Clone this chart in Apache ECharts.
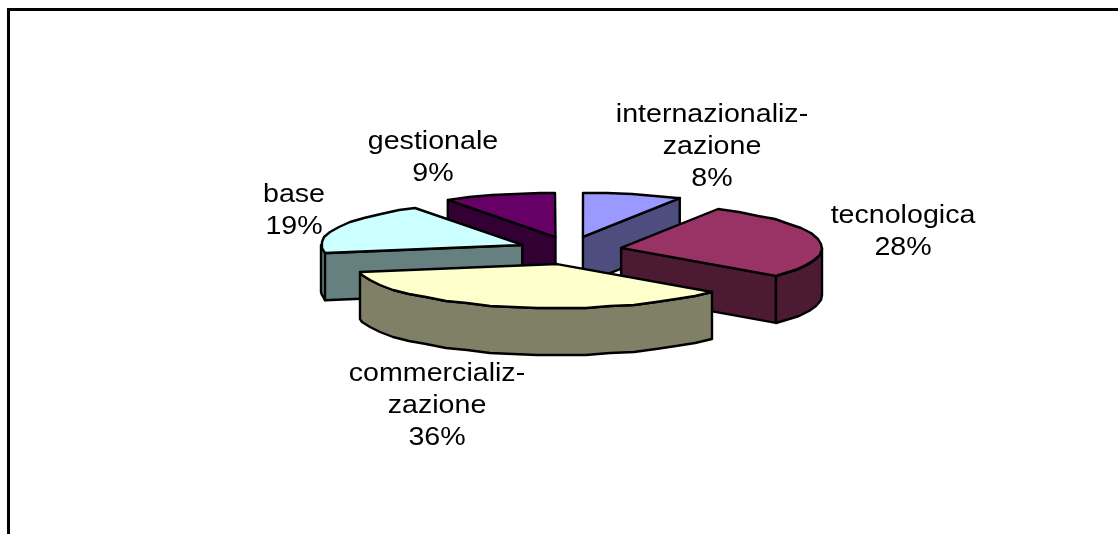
<!DOCTYPE html>
<html>
<head>
<meta charset="utf-8">
<title>pie</title>
<script src="https://cdn.jsdelivr.net/npm/echarts@6/dist/echarts.min.js"></script>
<style>
html, body { margin: 0; padding: 0; background: #fff; }
#chart { width: 1118px; height: 534px; }
</style>
</head>
<body>
<div id="chart"></div>
<script>
// data
var categories = ["internazionaliz-\nzazione", "tecnologica", "commercializ-\nzazione", "base", "gestionale"];
var shares = [8, 28, 36, 19, 9];

// colours
var topColors = ["#9999ff", "#993366", "#ffffcc", "#ccffff", "#660066"];
var sideColors = ["#4d4d80", "#4d1a33", "#808066", "#668080", "#330033"];

// layout of the tilted pie
var cx = 570, cy = 250.5;
var rx = 201, ry = 44;       // ellipse of the top face
var ex = 52, ey = 14;        // how far slices are pulled out
var depth = 47;
var arcStep = 7;             // degrees, the original arc is coarse
var labelPos = [[712, 147], [903, 232], [437, 406], [294, 211], [433, 158]];
var labelScaleX = 1.1;

var total = shares.reduce(function (a, b) { return a + b; }, 0);

function rad(d) { return d * Math.PI / 180; }

function arcPoints(ax, ay, from, to, h) {
  var pts = [];
  for (var a = from; a < to; a += arcStep) {
    pts.push([Math.round(ax + rx * Math.sin(rad(a))), Math.round(ay - ry * Math.cos(rad(a)) + h)]);
  }
  pts.push([Math.round(ax + rx * Math.sin(rad(to))), Math.round(ay - ry * Math.cos(rad(to)) + h)]);
  return pts;
}

function poly(points, fill, z2) {
  return {
    type: "polygon",
    z2: z2,
    shape: { points: points },
    style: { fill: fill, stroke: "#000", lineWidth: 2.4, lineJoin: "round" }
  };
}

function wall(ax, ay, a, fill, z2) {
  var px = ax + rx * Math.sin(rad(a));
  var py = ay - ry * Math.cos(rad(a));
  return poly([[ax, ay], [px, py], [px, py + depth], [ax, ay + depth]], fill, z2);
}

function renderSlice(params, api) {
  var i = params.dataIndex;
  var before = 0;
  for (var k = 0; k < i; k++) before += shares[k];
  var a0 = before / total * 360;
  var a1 = (before + api.value(0)) / total * 360;
  var mid = (a0 + a1) / 2;
  var ax = cx + ex * Math.sin(rad(mid));
  var ay = cy - ey * Math.cos(rad(mid));
  // slices further back go first
  var z = Math.round((1 - Math.cos(rad(mid))) * 100);
  var kids = [];

  // cut faces that turn towards the viewer
  if (Math.cos(rad(a0 - 90)) < -0.01) kids.push(wall(ax, ay, a0, sideColors[i], z));
  if (Math.cos(rad(a1 + 90)) < -0.01) kids.push(wall(ax, ay, a1, sideColors[i], z));

  // front rim
  var r0 = Math.max(a0, 90), r1 = Math.min(a1, 270);
  if (r1 > r0) {
    var upper = arcPoints(ax, ay, r0, r1, 0);
    var lower = arcPoints(ax, ay, r0, r1, depth).reverse();
    kids.push(poly(upper.concat(lower), sideColors[i], z + 1));
  }

  // top face
  kids.push(poly([[ax, ay]].concat(arcPoints(ax, ay, a0, a1, 0)), topColors[i], z + 2));

  // label
  kids.push({
    type: "text",
    x: labelPos[i][0],
    y: labelPos[i][1],
    scaleX: labelScaleX,
    z2: 1000,
    style: {
      text: categories[i] + "\n" + api.value(0) + "%",
      fontFamily: "Liberation Sans",
      fontSize: 26,
      lineHeight: 32,
      fill: "#000",
      align: "center",
      verticalAlign: "middle"
    }
  });

  return { type: "group", children: kids };
}

var myChart = echarts.init(document.getElementById("chart"), null, { renderer: "canvas" });
myChart.setOption({
  animation: false,
  backgroundColor: "#fff",
  graphic: [
    {
      type: "polyline",
      silent: true,
      shape: { points: [[8.5, 540], [8.5, 9.5], [1125, 9.5]] },
      style: { fill: null, stroke: "#000", lineWidth: 3 }
    }
  ],
  series: [
    {
      type: "custom",
      coordinateSystem: "none",
      silent: true,
      clip: false,
      renderItem: renderSlice,
      data: shares.map(function (v) { return [v]; })
    }
  ]
});
</script>
</body>
</html>
